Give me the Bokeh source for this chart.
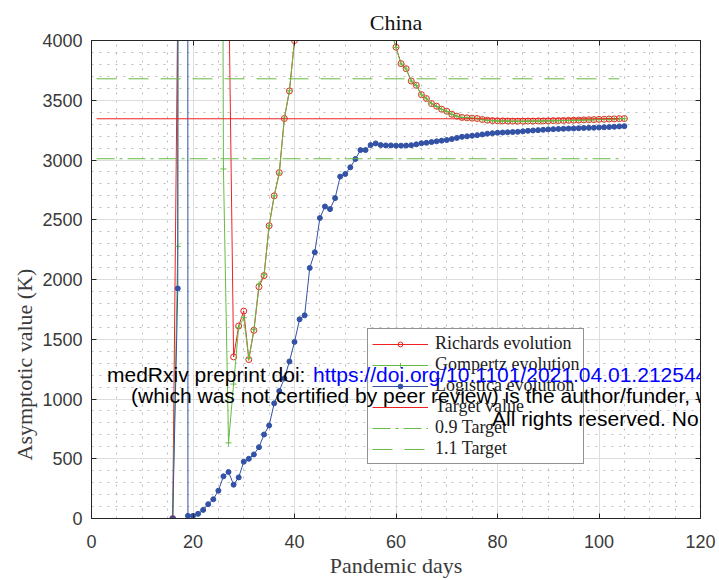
from bokeh.plotting import figure
from bokeh.models import Range1d, LinearAxis, Label, SingleIntervalTicker, CustomJSTickFormatter, Title
from bokeh.embed import file_html
from bokeh.resources import INLINE
try:
    from bokeh.models import HTMLLabel as WLabel
except Exception:
    WLabel = Label

# ---------------- data ----------------
days = list(range(16, 106))

richards = [
    0, 4300, 6000, 9000, 15000, 22000, 30000, 26000, 18000, 12000, 8000, 4600,          # 16-27
    1352, 1611, 1736, 1330, 1575, 1939, 2033, 2450, 2700, 2894, 3347, 3578, 4000,       # 28-40
    5200, 6800, 9000, 12000, 15000, 17000, 16000, 14000, 12000, 10000, 8500, 7200,      # 41-52
    6200, 5500, 5000, 4700, 4450, 4250, 4100,                                           # 53-59
    3944, 3806, 3764, 3661, 3625, 3547, 3514, 3472, 3450, 3425, 3408, 3383, 3367,       # 60-72
    3356, 3353, 3350, 3347, 3339, 3333, 3330, 3328, 3327, 3326, 3325, 3325, 3325,       # 73-85
    3326, 3326, 3327, 3327, 3328, 3329, 3330, 3331, 3332, 3333, 3334, 3336, 3337,       # 86-98
    3338, 3340, 3341, 3343, 3344, 3346, 3347,                                           # 99-105
]

gompertz = [
    0, 2278, 40000, 60000, 80000, 70000, 50000, 40000, 30000, 16000, 2925,              # 16-26
    633,                                                                                # 27
    1125, 1600, 1680, 1340, 1580, 1960, 2040, 2450, 2700, 2890, 3350, 3580, 4000,       # 28-40
    5100, 6600, 8800, 11500, 14500, 16500, 15500, 13500, 11500, 9800, 8300, 7100,       # 41-52
    6100, 5400, 4950, 4650, 4400, 4220, 4090,                                           # 53-59
    3942, 3804, 3762, 3660, 3623, 3546, 3512, 3471, 3448, 3424, 3406, 3382, 3366,       # 60-72
    3355, 3352, 3349, 3346, 3338, 3332, 3329, 3327, 3326, 3325, 3324, 3324, 3324,       # 73-85
    3325, 3325, 3326, 3326, 3327, 3328, 3329, 3330, 3331, 3332, 3333, 3335, 3336,       # 86-98
    3337, 3339, 3340, 3342, 3343, 3345, 3346,                                           # 99-105
]

logistica = [
    0, 1925, 200000, 22, 22, 39, 72, 120, 161, 233, 353, 389,                           # 16-27
    283, 344, 475, 500, 536, 597, 703, 778, 964, 1067, 1172, 1314, 1478,                # 28-40
    1667, 1700, 2097, 2228, 2514, 2611, 2589, 2681, 2861, 2883, 2939, 3008,             # 41-52
    3083, 3083, 3125, 3139, 3125, 3122, 3122,                                           # 53-59
    3120, 3120, 3121, 3124, 3131, 3140, 3144, 3150, 3156, 3162, 3167, 3175, 3185,       # 60-72
    3194, 3198, 3203, 3208, 3214, 3220, 3224, 3228, 3230, 3232, 3234, 3236, 3240,       # 73-85
    3244, 3247, 3250, 3253, 3256, 3258, 3260, 3261, 3263, 3264, 3266, 3268, 3269,       # 86-98
    3270, 3272, 3274, 3276, 3278, 3281, 3283,                                           # 99-105
]

assert len(richards) == len(days) == len(gompertz) == len(logistica)

target_value = 3345
target_span = [1, 104]
target_levels = {"Target value": 1.0, "0.9 Target": 0.9, "1.1 Target": 1.1}

x_ticks_interval = 20
y_ticks_interval = 500

# ---------------- styling ----------------
RED = "#ee2222"
GREEN = "#66bb44"
BLUE = "#3352a6"
AXC = "#262626"
SERIF = "Liberation Serif"
SANS = "Liberation Sans"

p = figure(width=719, height=580, output_backend="svg", toolbar_location=None,
           x_range=Range1d(0, 120), y_range=Range1d(0, 4000),
           min_border_left=91, min_border_right=19, min_border_top=40, min_border_bottom=60,
           background_fill_color="white", border_fill_color="white")

p.title.text = "China"
p.title.text_font = SERIF
p.title.text_font_size = "22px"
p.title.text_font_style = "normal"
p.title.text_color = "#111111"
p.title.align = "center"
p.title.standoff = 12

p.outline_line_color = AXC
p.outline_line_width = 1

xt = SingleIntervalTicker(interval=x_ticks_interval, num_minor_ticks=4)
yt = SingleIntervalTicker(interval=y_ticks_interval, num_minor_ticks=5)
p.xaxis.ticker = xt
p.yaxis.ticker = yt

for ax in (p.xaxis[0], p.yaxis[0]):
    ax.major_tick_in = 5
    ax.major_tick_out = 0
    ax.minor_tick_in = 0
    ax.minor_tick_out = 0
    ax.axis_line_color = AXC
    ax.major_tick_line_color = AXC
    ax.major_label_text_font = SANS
    ax.major_label_text_font_size = "18px"
    ax.major_label_text_color = "#3a3a3a"
    ax.axis_label_text_font = SERIF
    ax.axis_label_text_font_size = "22px"
    ax.axis_label_text_font_style = "normal"
    ax.axis_label_text_color = "#3a3a3a"

p.xaxis.axis_label = "Pandemic days"
p.xaxis.major_label_standoff = 16
p.yaxis.major_label_standoff = 9
p.xaxis.axis_label_standoff = 2

for loc, tk in (("above", xt), ("right", yt)):
    ax = LinearAxis(ticker=SingleIntervalTicker(interval=tk.interval, num_minor_ticks=tk.num_minor_ticks),
                    formatter=CustomJSTickFormatter(code="return ''"),
                    major_label_standoff=0,
                    major_tick_in=5, major_tick_out=0, minor_tick_in=0, minor_tick_out=0,
                    axis_line_color=AXC, major_tick_line_color=AXC)
    p.add_layout(ax, loc)

# y label (sits lower than the frame centre in the original)
ylab = Title(text="Asymptotic value (K)", align="left", offset=58, standoff=6,
             text_font=SERIF, text_font_size="22px", text_font_style="normal",
             text_color="#3a3a3a")
p.add_layout(ylab, "left")

p.grid.grid_line_color = "#dddddd"
p.grid.grid_line_width = 1
p.grid.minor_grid_line_color = "#bdbdbd"
p.grid.minor_grid_line_dash = "2 6"
p.grid.minor_grid_line_width = 1

# ---------------- series ----------------
p.line(days, richards, color=RED, line_width=1, legend_label="Richards evolution")
p.scatter(days, richards, marker="circle", size=6, line_color=RED, fill_color=None,
          line_width=1, legend_label="Richards evolution")

p.line(days, gompertz, color=GREEN, line_width=1, legend_label="Gompertz evolution")
p.scatter(days, gompertz, marker="cross", size=6, line_color=GREEN, line_width=1,
          legend_label="Gompertz evolution")

p.line(days, logistica, color=BLUE, line_width=1, legend_label="Logistica evolution")
p.scatter(days, logistica, marker="circle", size=5, line_color=BLUE, fill_color=BLUE,
          legend_label="Logistica evolution")

styles = {"Target value": (RED, "solid"), "0.9 Target": (GREEN, "18 5 3 5"),
          "1.1 Target": (GREEN, "20 12")}
for name, factor in target_levels.items():
    col, dash = styles[name]
    p.line(target_span, [target_value * factor] * len(target_span), color=col,
           line_width=1, line_dash=dash, legend_label=name)

lg = p.legend[0]
lg.location = (276, 54)
lg.border_line_color = AXC
lg.border_line_width = 1
lg.background_fill_color = "white"
lg.background_fill_alpha = 1
lg.padding = 4
lg.spacing = 0
lg.margin = 0
lg.glyph_width = 56
lg.glyph_height = 12
lg.label_height = 12
lg.label_standoff = 7
lg.label_text_font = SERIF
lg.label_text_font_size = "18px"
lg.label_text_color = "#222222"

# ---------------- preprint watermark (screen px relative to frame) ----------------
wm = dict(x_units="screen", y_units="screen", text_font=SANS, text_font_size="21px",
          text_baseline="alphabetic", level="overlay")
p.add_layout(WLabel(x=16, y=143, text="medRxiv preprint doi: ", text_color="black", **wm))
p.add_layout(WLabel(x=222, y=143, text="https://doi.org/10.1101/2021.04.01.2125449",
                    text_color="#0000ff", **wm))
p.add_layout(WLabel(x=40, y=122, text="(which was not certified by peer review) is the author/funder, w",
                    text_color="black", **wm))
p.add_layout(WLabel(x=401, y=99, text="All rights reserved. No re", text_color="black", **wm))

open("out.html", "w").write(file_html(p, INLINE))
